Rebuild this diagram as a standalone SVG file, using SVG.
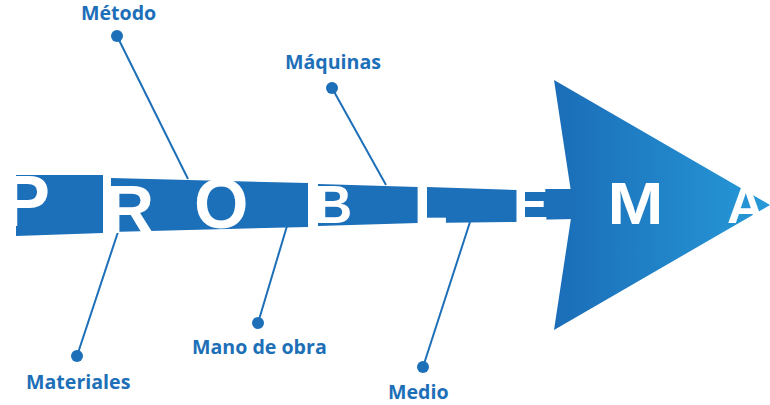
<svg xmlns="http://www.w3.org/2000/svg" width="770" height="405" viewBox="0 0 770 405">
<defs>
<linearGradient id="headGrad" gradientUnits="userSpaceOnUse" x1="554" y1="0" x2="770" y2="0">
<stop offset="0" stop-color="#1b6db8"/>
<stop offset="1" stop-color="#2699d8"/>
</linearGradient>
<style>
.plate{fill:#1c6fb9;}
.big{font-family:"Liberation Sans",Arial,sans-serif;font-weight:bold;fill:#ffffff;}
.lbl{font-family:"Open Sans","Liberation Sans",sans-serif;font-weight:bold;font-size:19.6px;fill:#1d6fb8;}
.dot{fill:#1d6fb8;}
.con{stroke:#1d6fb8;stroke-width:2;fill:none;}
</style>
</defs>
<rect width="770" height="405" fill="#ffffff"/>

<g id="connectors">
<line class="con" x1="117" y1="36" x2="188" y2="179"/>
<line class="con" x1="332" y1="88" x2="386" y2="185"/>
<line class="con" x1="77" y1="356" x2="118" y2="232"/>
<line class="con" x1="258" y1="323" x2="287" y2="226"/>
<line class="con" x1="423" y1="367" x2="470" y2="222"/>
</g>

<g id="problema">
<polygon points="554,80 770,205 554,330 573,205" fill="url(#headGrad)"/>
<polygon class="plate" points="16,175 103,175 103,233 16,236"/>
<polygon class="plate" points="111,178 308,183 308,227 111,232"/>
<polygon class="plate" points="318,184 418,187 418,223 318,226"/>
<polygon class="plate" points="427,187 517,190 517,222 427,223"/>
<polygon class="plate" points="525,189 576,189 576,219 525,220"/>
<text class="big" x="2" y="226" font-size="72">P</text>
<text class="big" x="105" y="233" font-size="68">R</text>
<text class="big" x="194" y="228" font-size="70">O</text>
<text class="big" x="314" y="223" font-size="53">B</text>
<text class="big" x="414" y="224" font-size="55">L</text>
<text class="big" x="513" y="223" font-size="53">E</text>
<text class="big" transform="translate(612,224) scale(1.12,1)" x="-4" y="0" font-size="60">M</text>
<text class="big" x="727" y="223" font-size="52">A</text>
</g>

<g id="metodo">
<circle class="dot" cx="117" cy="36" r="6"/>
<text class="lbl" x="81" y="20">Método</text>
</g>
<g id="maquinas">
<circle class="dot" cx="332" cy="88" r="6"/>
<text class="lbl" x="285" y="69">Máquinas</text>
</g>
<g id="materiales">
<circle class="dot" cx="77" cy="356" r="6"/>
<text class="lbl" x="26" y="389">Materiales</text>
</g>
<g id="mano-de-obra">
<circle class="dot" cx="258" cy="323" r="6"/>
<text class="lbl" x="192" y="354">Mano de obra</text>
</g>
<g id="medio">
<circle class="dot" cx="423" cy="367" r="6"/>
<text class="lbl" x="388" y="399">Medio</text>
</g>
</svg>
